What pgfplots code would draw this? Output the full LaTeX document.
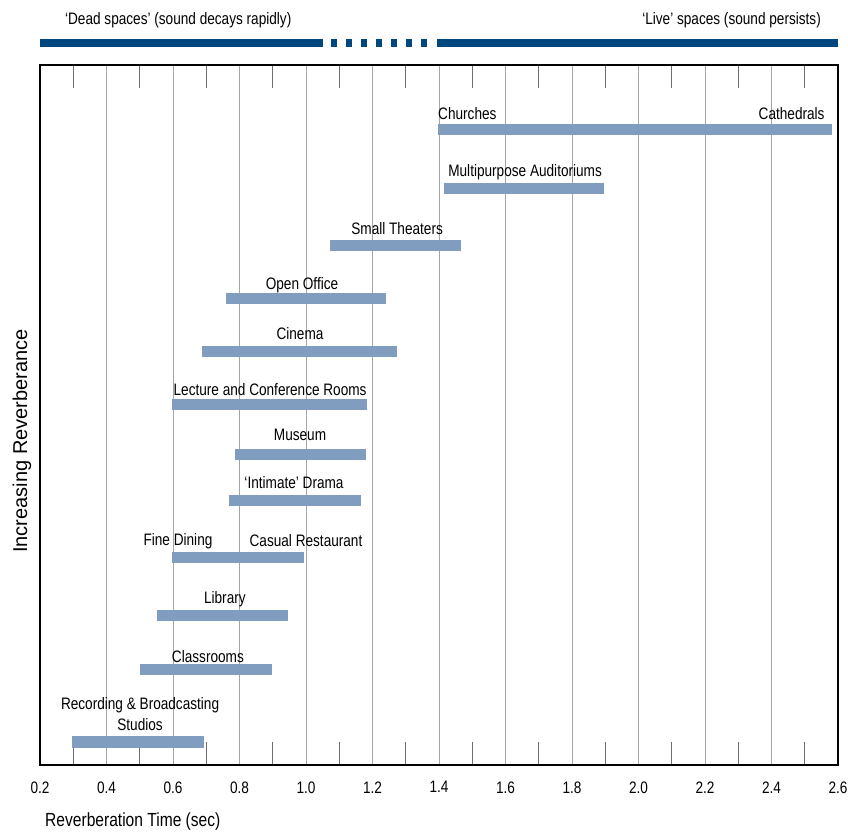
\documentclass[border=0pt]{standalone}
\usepackage{pgfplots}
\pgfplotsset{compat=1.18}
\usepackage{fontspec}
\setmainfont[FakeStretch=0.82]{Liberation Sans}
\newfontfamily\widefont{Liberation Sans}
\definecolor{barcol}{RGB}{128,156,190}
\definecolor{navy}{RGB}{0,70,127}
\definecolor{gridgray}{RGB}{165,165,165}
\definecolor{tickgray}{RGB}{110,110,110}
\newcommand{\lblfont}{\fontsize{16.6bp}{21bp}\selectfont}
\begin{document}
\begin{tikzpicture}[font=\lblfont]
\path[use as bounding box] (0,0) rectangle (848bp,833bp);
\begin{axis}[
  at={(40bp,68bp)}, anchor=south west,
  scale only axis, width=798bp, height=700bp,
  xmin=0.2, xmax=2.6, ymin=0, ymax=700,
  clip=false,
  axis line style={black, line width=1.8bp},
  xtick={0.2,0.4,...,2.6},
  minor xtick={0.3,0.5,...,2.5},
  ytick=\empty,
  xmajorgrids,
  major grid style={gridgray, line width=1bp},
  major tick length=0pt,
  minor tick length=23bp,
  minor tick style={tickgray, line width=1bp},
  xticklabel style={font=\lblfont, yshift=-13bp,
    /pgf/number format/.cd, fixed, fixed zerofill, precision=1, assume math mode=true},
  bar/.style={barcol, line width=11bp, solid, no markers},
]
% bars: (start, level) -- (end, level)
\addplot[bar] coordinates {(1.397,635) (2.582,635)}; % Churches - Cathedrals
\addplot[bar] coordinates {(1.415,576) (1.896,576)}; % Multipurpose Auditoriums
\addplot[bar] coordinates {(1.072,519) (1.466,519)}; % Small Theaters
\addplot[bar] coordinates {(0.760,466) (1.240,466)}; % Open Office
\addplot[bar] coordinates {(0.687,413) (1.274,413)}; % Cinema
\addplot[bar] coordinates {(0.597,360) (1.183,360)}; % Lecture and Conference Rooms
\addplot[bar] coordinates {(0.786,310) (1.180,310)}; % Museum
\addplot[bar] coordinates {(0.768,264) (1.165,264)}; % Intimate Drama
\addplot[bar] coordinates {(0.597,207) (0.994,207)}; % Fine Dining - Casual Restaurant
\addplot[bar] coordinates {(0.552,149) (0.946,149)}; % Library
\addplot[bar] coordinates {(0.501,95) (0.898,95)};   % Classrooms
\addplot[bar] coordinates {(0.296,23) (0.693,23)};   % Recording & Broadcasting Studios

% labels
\node[anchor=west, inner sep=0pt] at (axis cs:1.397,651) {Churches};
\node[anchor=east, inner sep=0pt] at (axis cs:2.560,651) {Cathedrals};
\node at (axis cs:1.659,593) {Multipurpose Auditoriums};
\node at (axis cs:1.274,536) {Small Theaters};
\node at (axis cs:0.988,480) {Open Office};
\node at (axis cs:0.982,431) {Cinema};
\node at (axis cs:0.892,375) {Lecture and Conference Rooms};
\node at (axis cs:0.982,330) {Museum};
\node at (axis cs:0.964,282) {‘Intimate’ Drama};
\node at (axis cs:0.615,224) {Fine Dining};
\node at (axis cs:1.000,224) {Casual Restaurant};
\node at (axis cs:0.756,166) {Library};
\node at (axis cs:0.705,108) {Classrooms};
\node[align=center] at (axis cs:0.501,51) {Recording \& Broadcasting\\Studios};

% top band
\draw[navy, line width=8bp] (axis cs:0.2,722) -- (axis cs:1.051,722);
\draw[navy, line width=8bp, dash pattern=on 6bp off 9bp] (axis cs:1.075,722) -- (axis cs:1.372,722);
\draw[navy, line width=8bp] (axis cs:1.394,722) -- (axis cs:2.6,722);
\node[anchor=west, inner sep=0pt] at (axis cs:0.275,745) {‘Dead spaces’ (sound decays rapidly)};
\node[anchor=east, inner sep=0pt] at (axis cs:2.549,745) {‘Live’ spaces (sound persists)};
\end{axis}
\node[rotate=90, font=\widefont\fontsize{20bp}{24bp}\selectfont] at (22bp,392bp) {Increasing Reverberance};
\node[anchor=west, inner sep=0pt, font=\fontsize{19bp}{22bp}\selectfont] at (45bp,11bp) {Reverberation Time (sec)};
\end{tikzpicture}
\end{document}
